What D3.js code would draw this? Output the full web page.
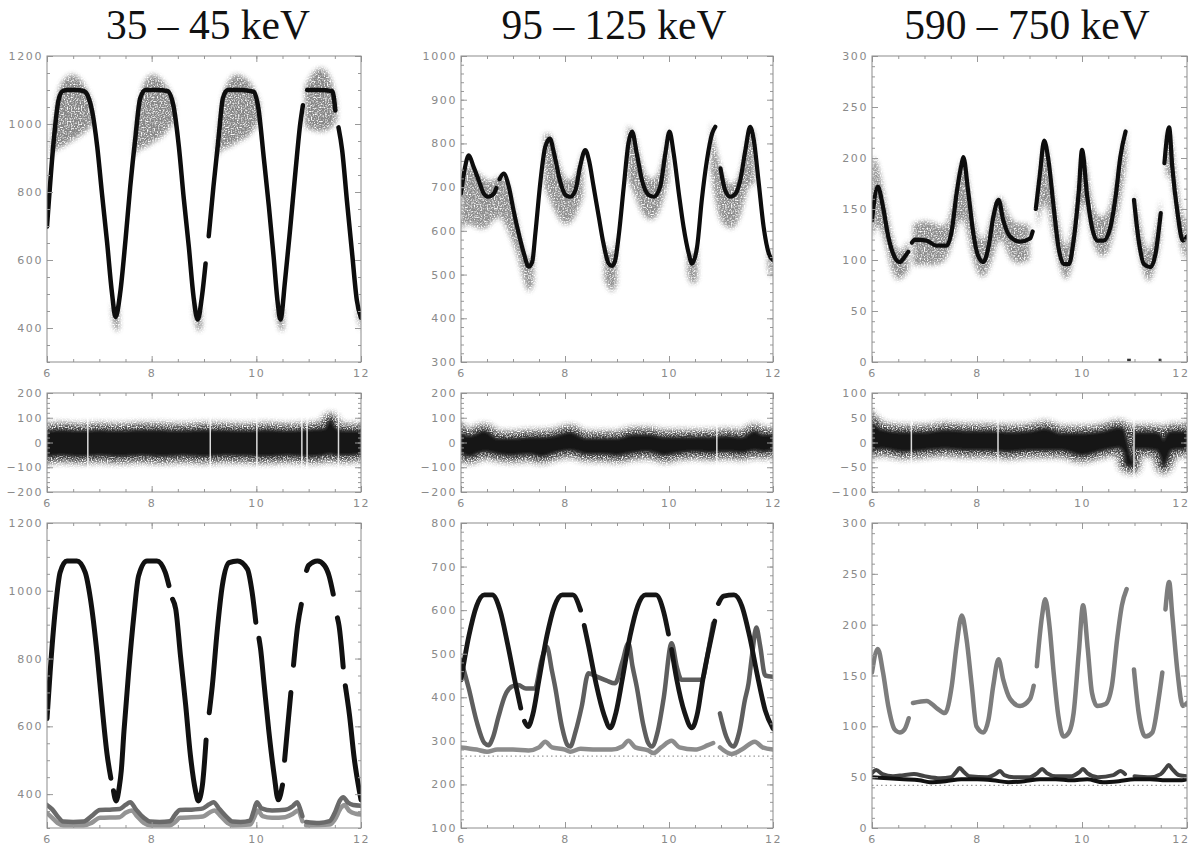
<!DOCTYPE html>
<html>
<head>
<meta charset="utf-8">
<script src="https://cdn.jsdelivr.net/npm/d3@7"></script>
<style>
  body { margin: 0; background: #fff; }
  svg { display: block; }
  .tick line { stroke: #999; }
  .tick text { fill: #8a8a8a; font-family: "DejaVu Sans", sans-serif; font-size: 11px; letter-spacing: 1.6px; }
</style>
</head>
<body>
<svg id="chart" width="1192" height="848"></svg>
<script>
// Titles of the three energy bands
var titles = ['35 \u2013 45 keV', '95 \u2013 125 keV', '590 \u2013 750 keV'];

// x axis (same in every panel)
var xDomain = [6, 12];
var xTicks = [6, 8, 10, 12];

// y tick labels for each panel
var a1Ticks = [400, 600, 800, 1000, 1200];
var b1Ticks = [300, 400, 500, 600, 700, 800, 900, 1000];
var c1Ticks = [0, 50, 100, 150, 200, 250, 300];
var resTicks = [-200, -100, 0, 100, 200];
var c2Ticks = [-100, -50, 0, 50, 100];
var a3Ticks = [400, 600, 800, 1000, 1200];
var b3Ticks = [100, 200, 300, 400, 500, 600, 700, 800];
var c3Ticks = [0, 50, 100, 150, 200, 250, 300];

// ---- top row: data (gray cloud) and model (black curve) ----
var a1Curve = [[6.00,698],[6.13,953],[6.22,1070],[6.30,1097],[6.40,1100],[6.55,1100],[6.70,1097],[6.80,1075],[6.86,1040],[6.96,933],[7.05,796],[7.15,649],[7.24,505],[7.31,432],[7.40,505],[7.50,659],[7.59,815],[7.69,962],[7.78,1075],[7.88,1100],[8.10,1100],[8.30,1097],[8.42,1050],[8.52,933],[8.61,786],[8.71,639],[8.80,492],[8.88,425],[8.96,492],[9.03,590],null,[9.09,670],[9.18,815],[9.28,962],[9.36,1075],[9.45,1100],[9.70,1100],[9.95,1095],[10.04,1045],[10.14,904],[10.24,757],[10.33,610],[10.41,472],[10.46,425],[10.55,541],[10.65,698],[10.75,864],[10.84,1002],[10.89,1055],null,[10.97,1100],[11.20,1100],[11.45,1097],[11.51,1040],null,[11.57,990],[11.64,923],[11.73,776],[11.83,620],[11.92,482],[12.00,430]];
var a1Cloud = [[6.08,900,940],[6.18,930,1090],[6.30,930,1130],[6.45,950,1150],[6.60,960,1140],[6.75,980,1110],[6.88,1000,1060],null,
  [7.24,440,480],[7.31,380,440],[7.38,400,470],null,
  [7.66,900,940],[7.76,930,1090],[7.90,930,1140],[8.05,950,1150],[8.20,960,1130],[8.35,990,1100],[8.45,1010,1060],null,
  [8.80,440,480],[8.88,380,430],[8.96,400,470],null,
  [9.24,900,940],[9.34,930,1090],[9.50,930,1140],[9.65,950,1150],[9.85,960,1130],[9.98,990,1100],[10.07,1010,1060],null,
  [10.38,440,480],[10.46,380,430],[10.53,400,470],null,
  [10.93,990,1110],[11.10,980,1160],[11.30,975,1170],[11.45,990,1130],[11.54,1010,1060],null,
  [11.93,430,470],[12.00,390,440]];

var b1Curve = [[6.00,685],[6.08,747],[6.15,773],[6.24,747],[6.34,716],[6.44,685],[6.53,678],[6.63,685],[6.68,698],null,[6.74,718],[6.82,731],[6.92,701],[7.01,647],[7.11,594],[7.21,548],[7.30,518],[7.37,529],[7.43,594],[7.53,716],[7.62,792],[7.71,811],[7.79,777],[7.90,716],[8.01,682],[8.10,678],[8.20,693],[8.29,747],[8.39,785],[8.46,762],[8.55,701],[8.65,632],[8.74,571],[8.84,525],[8.90,520],[8.96,530],[9.03,586],[9.13,701],[9.22,800],[9.29,827],[9.38,777],[9.48,716],[9.61,682],[9.71,678],[9.83,701],[9.93,777],[10.01,827],[10.09,777],[10.19,685],[10.28,609],[10.38,548],[10.44,525],[10.54,563],[10.63,670],[10.73,762],[10.83,823],[10.89,838],null,[10.99,743],[11.08,693],[11.18,678],[11.28,685],[11.37,716],[11.47,785],[11.56,838],[11.63,808],[11.72,716],[11.82,609],[11.92,548],[12.00,533]];
var b1Cloud = [[6.00,600,700],[6.10,620,760],[6.25,610,740],[6.45,600,720],[6.60,620,710],[6.75,640,730],[6.90,600,720],[7.05,560,640],[7.20,490,560],[7.30,450,520],[7.40,480,560],null,
  [7.60,700,820],[7.75,660,830],[7.90,620,740],[8.05,610,710],[8.20,630,720],[8.35,680,790],null,
  [8.75,490,580],[8.90,450,530],[9.00,480,590],null,
  [9.20,720,840],[9.35,680,830],[9.50,630,730],[9.70,620,710],[9.85,650,740],[10.00,720,840],null,
  [10.35,500,560],[10.45,470,530],[10.55,490,570],null,
  [10.80,740,850],[10.95,620,760],[11.10,610,710],[11.25,600,700],[11.40,640,740],[11.55,720,850],[11.65,700,820],null,
  [11.90,510,560],[12.00,490,540]];

var c1Curve = [[6.00,139],[6.11,172],[6.21,152],[6.31,123],[6.43,103],[6.53,98],[6.62,103],[6.69,108],null,[6.76,117],[6.82,120],[7.04,119],[7.23,114],[7.42,114],[7.52,129],[7.61,165],[7.71,195],[7.74,201],[7.83,168],[7.93,126],[8.03,103],[8.12,98],[8.22,113],[8.31,142],[8.41,159],[8.50,139],[8.63,123],[8.82,118],[9.01,121],[9.06,128],null,[9.12,150],[9.20,185],[9.28,217],[9.36,198],[9.46,152],[9.55,113],[9.65,96],[9.75,96],[9.84,119],[9.94,168],[10.00,208],[10.10,162],[10.19,132],[10.29,119],[10.41,119],[10.54,132],[10.64,162],[10.73,201],[10.83,226],null,[10.99,159],[11.08,119],[11.18,96],[11.31,93],[11.40,106],[11.50,146],null,[11.57,195],[11.66,230],[11.72,191],[11.82,146],[11.92,119],[12.00,123]];
var c1Cloud = [[6.00,120,200],[6.10,140,200],[6.25,120,160],[6.40,80,115],[6.55,80,105],[6.70,90,120],null,
  [6.78,95,135],[7.00,95,140],[7.25,95,135],[7.45,100,130],[7.60,130,175],[7.75,150,215],[7.90,100,150],[8.10,75,105],[8.30,100,150],[8.45,130,170],[8.60,100,140],[8.80,95,135],[9.00,100,135],null,
  [9.15,130,170],[9.30,170,235],[9.45,120,170],[9.65,75,105],[9.80,85,120],[9.95,140,190],[10.05,170,215],[10.20,110,145],[10.40,100,140],[10.55,110,150],[10.75,160,210],[10.85,200,230],null,
  [11.00,130,170],[11.20,75,105],[11.35,80,110],[11.50,120,160],null,
  [11.60,180,220],[11.70,190,235],[11.85,110,150],[12.00,100,135]];
var c1Low = [[10.86,10.93,2],[11.46,11.51,2]];

// ---- middle row: residuals (dense band lo/hi) and data gaps ----
var a2Band = [[6.0,-55,45],[6.3,-50,50],[6.6,-55,45],[7.0,-50,48],[7.4,-55,45],[7.8,-50,50],[8.2,-55,48],[8.6,-50,45],[9.0,-55,50],[9.4,-50,48],[9.8,-52,45],[10.2,-55,50],[10.6,-50,45],[11.0,-55,50],[11.3,-50,55],[11.42,-45,90],[11.5,-50,60],[11.7,-50,45],[12.0,-45,45]];
var a2Gaps = [6.78, 9.12, 10.01, 10.87, 10.97, 11.57];

var b2Band = [[6.0,-40,40],[6.15,-55,25],[6.45,-35,45],[6.7,-45,15],[7.0,-50,15],[7.3,-45,20],[7.55,-55,20],[7.8,-40,25],[8.1,-30,40],[8.4,-45,15],[8.7,-45,15],[9.0,-50,15],[9.3,-40,30],[9.6,-35,30],[9.9,-50,20],[10.2,-40,20],[10.5,-35,20],[10.8,-40,20],[11.1,-35,25],[11.4,-40,20],[11.65,-30,45],[11.8,-35,30],[12.0,-30,30]];
var b2Gaps = [10.92];

var c2Band = [[6.0,-15,40],[6.2,-12,25],[6.6,-18,20],[7.0,-15,20],[7.4,-12,25],[7.8,-15,22],[8.2,-15,22],[8.6,-18,20],[9.0,-15,22],[9.3,-15,28],[9.6,-15,18],[10.0,-25,18],[10.4,-15,22],[10.7,-10,30],[10.8,-20,25],[10.84,-45,10],[10.97,-48,-38],[11.0,-12,20],[11.4,-15,20],[11.5,-30,15],[11.55,-48,5],[11.6,-40,15],[11.7,-15,22],[12.0,-12,22]];
var c2Gaps = [6.75, 8.4, 10.99];

// ---- bottom row: model components ----
var a3Total = [[6.00,623],[6.06,760],[6.16,946],[6.25,1054],[6.38,1088],[6.57,1088],[6.73,1054],[6.83,976],[6.96,809],[7.05,662],[7.15,515],[7.22,447],null,[7.27,410],[7.32,380],[7.38,420],[7.42,470],[7.47,584],[7.56,760],[7.66,927],[7.75,1044],[7.91,1088],[8.10,1088],[8.26,1054],[8.33,1015],null,[8.40,975],[8.46,946],[8.55,809],[8.65,662],[8.74,515],[8.84,408],[8.89,380],[8.97,427],[9.04,560],null,[9.10,640],[9.16,721],[9.25,878],[9.35,1015],[9.48,1083],[9.64,1088],[9.83,1064],[9.92,995],[9.99,907],null,[10.05,860],[10.08,830],[10.15,721],[10.24,584],[10.34,457],[10.42,383],[10.50,427],null,[10.54,500],[10.59,584],[10.66,700],null,[10.71,780],[10.79,897],[10.86,960],null,[10.96,1060],[11.00,1075],[11.17,1088],[11.30,1075],[11.39,1044],[11.47,990],null,[11.55,920],[11.58,897],[11.66,775],null,[11.70,720],[11.78,633],[11.87,506],[11.97,408],[12.00,383]];
var a3Upper = [[6.00,368],[6.10,355],[6.20,335],[6.31,319],[6.50,318],[6.70,319],[6.85,335],[7.01,353],[7.20,354],[7.39,356],[7.50,368],[7.59,376],[7.70,355],[7.85,330],[7.97,319],[8.15,318],[8.35,320],[8.45,340],[8.54,353],[8.75,354],[8.98,358],[9.10,370],[9.18,376],[9.30,355],[9.45,330],[9.54,319],[9.70,318],[9.88,322],[9.95,350],[10.01,376],[10.10,358],[10.30,352],[10.55,354],[10.70,365],[10.78,376],[10.85,350],[10.88,335],null,[10.95,318],[11.20,315],[11.40,320],[11.50,345],[11.60,382],[11.66,391],[11.75,375],[11.85,368],[12.00,366]];
var a3Lower = [[6.00,344],[6.10,330],[6.20,315],[6.31,308],[6.70,308],[6.85,315],[7.01,330],[7.39,332],[7.50,345],[7.62,352],[7.72,335],[7.85,315],[7.97,308],[8.35,308],[8.45,318],[8.54,330],[8.98,334],[9.10,345],[9.20,352],[9.32,335],[9.45,315],[9.54,308],[9.88,310],[9.95,328],[10.03,352],[10.12,335],[10.30,330],[10.55,332],[10.70,342],[10.80,352],[10.86,330],[10.88,320],null,[10.95,308],[11.40,310],[11.50,325],[11.62,360],[11.68,368],[11.78,350],[11.90,342],[12.00,340]];

var b3Total = [[6.00,440],[6.15,540],[6.30,610],[6.45,635],[6.60,635],[6.75,600],[6.90,520],[7.05,430],[7.15,375],null,[7.22,345],[7.29,333],[7.38,360],[7.50,440],[7.65,540],[7.80,610],[7.95,635],[8.15,635],[8.30,600],null,[8.37,565],[8.45,520],[8.60,430],[8.75,360],[8.87,330],[8.98,365],[9.10,440],[9.25,540],[9.40,610],[9.55,635],[9.75,635],[9.90,595],[9.99,545],null,[10.05,510],[10.15,440],[10.30,365],[10.44,330],[10.55,365],[10.65,440],[10.80,530],[10.88,575],null,[10.95,615],[11.05,632],[11.25,635],[11.40,610],[11.55,540],[11.70,450],[11.85,370],[12.00,328]];
var b3Mid = [[6.00,486],[6.15,420],[6.30,345],[6.45,295],[6.53,290],[6.62,310],[6.72,355],[6.85,405],[6.97,424],[7.10,428],[7.25,420],[7.42,420],[7.55,486],[7.65,516],[7.75,460],[7.81,424],[7.94,333],[8.05,290],[8.10,287],[8.20,320],[8.32,378],[8.45,455],[8.60,448],[8.80,438],[8.96,432],[9.10,480],[9.22,524],[9.30,470],[9.38,424],[9.50,340],[9.60,295],[9.67,287],[9.78,320],[9.90,400],[10.05,524],[10.15,470],[10.24,440],[10.45,440],[10.63,440],[10.76,510],[10.85,570],null,[10.98,363],[11.10,310],[11.24,287],[11.35,320],[11.46,394],[11.53,432],[11.60,500],[11.68,560],[11.75,520],[11.85,450],[12.00,447]];
var b3Base = [[6.00,285],[6.30,280],[6.50,275],[6.70,280],[7.00,280],[7.30,278],[7.50,285],[7.62,298],[7.75,285],[8.00,280],[8.10,275],[8.30,282],[8.60,280],[8.90,280],[9.10,287],[9.22,300],[9.35,285],[9.60,278],[9.70,272],[9.85,285],[10.05,300],[10.20,285],[10.50,280],[10.75,290],[10.85,295],null,[10.98,285],[11.20,270],[11.40,280],[11.65,298],[11.80,285],[12.00,280]];
var b3Level = 265;

var c3Total = [[6.00,153],[6.11,176],[6.21,153],[6.31,120],[6.43,97],[6.53,94],[6.62,97],[6.70,108],null,[6.78,123],[7.04,125],[7.23,118],[7.39,113],[7.52,140],[7.61,179],[7.71,209],[7.80,186],[7.90,140],[7.99,100],[8.12,94],[8.22,107],[8.31,140],[8.41,166],[8.50,146],[8.63,127],[8.82,120],[9.01,127],[9.08,140],null,[9.14,159],[9.24,209],[9.30,225],[9.38,199],[9.46,153],[9.55,110],[9.65,90],[9.75,94],[9.84,113],[9.94,173],[10.02,219],[10.11,176],[10.19,133],[10.29,120],[10.45,122],[10.57,140],[10.67,186],[10.76,219],[10.85,235],null,[10.99,156],[11.08,113],[11.21,90],[11.34,94],[11.46,127],[11.53,153],null,[11.59,215],[11.66,242],[11.72,209],[11.82,153],[11.92,120],[12.00,123]];
var c3Bump = [[6.00,54],[6.08,57],[6.20,53],[6.40,51],[6.60,52],[6.80,53],[7.00,51],[7.30,49],[7.50,50],[7.60,55],[7.67,59],[7.75,55],[7.85,51],[8.20,50],[8.35,53],[8.44,56],[8.52,52],[8.70,50],[9.00,50],[9.15,54],[9.24,58],[9.33,54],[9.50,51],[9.80,51],[9.95,55],[10.02,58],[10.10,54],[10.30,50],[10.60,52],[10.73,56],[10.82,53],null,[11.00,51],[11.30,50],[11.50,53],[11.60,59],[11.65,62],[11.72,58],[11.85,52],[12.00,51]];
var c3Flat = [[6.0,50],[6.3,49],[6.6,48],[6.9,47],[7.1,45],[7.4,46],[7.7,48],[8.0,48],[8.3,47],[8.6,45],[8.9,46],[9.2,48],[9.5,48],[9.8,47],[10.1,48],[10.4,45],[10.7,46],[11.0,48],[11.3,48],[11.6,47],[11.9,47],[12.0,48]];
var c3Level = 42;

// ---- layout ----
var cols = [{ x0: 47, x1: 361 }, { x0: 461, x1: 773 }, { x0: 872, x1: 1187 }];
var rows = [{ y0: 56, y1: 362 }, { y0: 393, y1: 492 }, { y0: 523, y1: 828 }];
var titleX = [208, 614, 1027];

var svg = d3.select('#chart');
var defs = svg.append('defs');

// speckled, blurred look for the scattered data points
function speckleFilter(id, blur, freq, gain, bias) {
    var f = defs.append('filter').attr('id', id)
        .attr('x', '-20%').attr('y', '-60%').attr('width', '140%').attr('height', '220%');
    f.append('feGaussianBlur').attr('in', 'SourceGraphic').attr('stdDeviation', blur).attr('result', 'b');
    f.append('feTurbulence').attr('type', 'fractalNoise').attr('baseFrequency', freq)
        .attr('numOctaves', 1).attr('seed', 4).attr('result', 'n');
    f.append('feColorMatrix').attr('in', 'n').attr('type', 'matrix')
        .attr('values', '0 0 0 0 0  0 0 0 0 0  0 0 0 0 0  ' + gain + ' 0 0 0 ' + bias).attr('result', 'm');
    f.append('feComposite').attr('in', 'b').attr('in2', 'm').attr('operator', 'in');
}
speckleFilter('fuzz', 2.5, 0.7, 3.5, -0.9);
speckleFilter('halo', 3, 0.8, 3.5, -1.0);
defs.append('filter').attr('id', 'soft').attr('x', '-20%').attr('y', '-50%').attr('width', '140%').attr('height', '200%')
    .append('feGaussianBlur').attr('stdDeviation', 0.8);

// Function to build one framed panel with ticks on all four sides
function makePanel(col, row, yDomain, yTicks, yMinorStep) {
    var c = cols[col], r = rows[row];
    var x = d3.scaleLinear().domain(xDomain).range([c.x0, c.x1]);
    var y = d3.scaleLinear().domain(yDomain).range([r.y1, r.y0]);
    var g = svg.append('g');
    var yMinor = d3.range(yDomain[0], yDomain[1] + 1e-9, yMinorStep);
    var xMinor = d3.range(6, 12.001, 0.5);

    var clipId = 'clip' + col + row;
    defs.append('clipPath').attr('id', clipId)
        .append('rect').attr('x', c.x0).attr('y', r.y0)
        .attr('width', c.x1 - c.x0).attr('height', r.y1 - r.y0);
    var plot = g.append('g').attr('clip-path', 'url(#' + clipId + ')');

    var axes = g.append('g');
    // minor ticks
    axes.append('g').attr('transform', 'translate(' + c.x0 + ',0)')
        .call(d3.axisLeft(y).tickValues(yMinor).tickSize(-3).tickFormat(''));
    axes.append('g').attr('transform', 'translate(' + c.x1 + ',0)')
        .call(d3.axisRight(y).tickValues(yMinor).tickSize(-3).tickFormat(''));
    axes.append('g').attr('transform', 'translate(0,' + r.y0 + ')')
        .call(d3.axisTop(x).tickValues(xMinor).tickSize(-3).tickFormat(''));
    axes.append('g').attr('transform', 'translate(0,' + r.y1 + ')')
        .call(d3.axisBottom(x).tickValues(xMinor).tickSize(-3).tickFormat(''));
    // major ticks + labels
    axes.append('g').attr('transform', 'translate(' + c.x0 + ',0)')
        .call(d3.axisLeft(y).tickValues(yTicks).tickSize(-6).tickPadding(4).tickFormat(d3.format('d')));
    axes.append('g').attr('transform', 'translate(' + c.x1 + ',0)')
        .call(d3.axisRight(y).tickValues(yTicks).tickSize(-6).tickFormat(''));
    axes.append('g').attr('transform', 'translate(0,' + r.y0 + ')')
        .call(d3.axisTop(x).tickValues(xTicks).tickSize(-6).tickFormat(''));
    var bottom = axes.append('g').attr('transform', 'translate(0,' + r.y1 + ')')
        .call(d3.axisBottom(x).tickValues(xTicks).tickSize(-6).tickPadding(7).tickFormat(d3.format('d')));
    axes.selectAll('.domain').remove();
    axes.selectAll('text').attr('font-family', null).attr('font-size', null);
    // the last column runs to the page edge: keep its "12" inside
    if (col === 2) {
        bottom.selectAll('.tick text').filter(d => d === 12).attr('text-anchor', 'end').attr('dx', 2);
    }

    g.append('rect')
        .attr('x', c.x0).attr('y', r.y0)
        .attr('width', c.x1 - c.x0).attr('height', r.y1 - r.y0)
        .attr('fill', 'none').attr('stroke', '#8c8c8c').attr('stroke-width', 1);

    return { plot: plot, x: x, y: y, r: r };
}

function drawCloud(p, data, fill, opacity) {
    var area = d3.area().defined(d => d)
        .x(d => p.x(d[0])).y0(d => p.y(d[1])).y1(d => p.y(d[2]))
        .curve(d3.curveBasis);
    p.plot.append('path').attr('d', area(data))
        .attr('fill', fill).attr('opacity', opacity).attr('filter', 'url(#fuzz)');
}

function drawLine(p, data, color, width) {
    var line = d3.line().defined(d => d)
        .x(d => p.x(d[0])).y(d => p.y(d[1]))
        .curve(d3.curveMonotoneX);
    p.plot.append('path').attr('d', line(data))
        .attr('fill', 'none').attr('stroke', color).attr('stroke-width', width)
        .attr('stroke-linecap', 'round').attr('stroke-linejoin', 'round');
}

function drawResidual(p, band, gaps) {
    var area = d3.area()
        .x(d => p.x(d[0])).y0(d => p.y(d[1])).y1(d => p.y(d[2]))
        .curve(d3.curveMonotoneX);
    p.plot.append('path').attr('d', area(band))
        .attr('fill', '#222').attr('stroke', '#222').attr('stroke-width', 14)
        .attr('opacity', 0.9).attr('filter', 'url(#halo)');
    p.plot.append('path').attr('d', area(band))
        .attr('fill', '#121212').attr('stroke', '#333').attr('stroke-width', 2)
        .attr('filter', 'url(#soft)');
    p.plot.selectAll(null).data(gaps).join('line')
        .attr('x1', d => p.x(d)).attr('x2', d => p.x(d))
        .attr('y1', p.r.y0).attr('y2', p.r.y1)
        .attr('stroke', '#fff').attr('stroke-width', 1.5).attr('opacity', 0.85);
}

function drawLevel(p, v) {
    p.plot.append('line')
        .attr('x1', p.x(6)).attr('x2', p.x(12))
        .attr('y1', p.y(v)).attr('y2', p.y(v))
        .attr('stroke', '#999').attr('stroke-width', 1.2).attr('stroke-dasharray', '1.5,3');
}

// Titles
svg.selectAll('text.title').data(titles).join('text')
    .attr('class', 'title')
    .attr('x', (d, i) => titleX[i]).attr('y', 39)
    .attr('text-anchor', 'middle')
    .attr('font-family', '"Liberation Serif", "DejaVu Serif", serif')
    .attr('font-size', 41.5).attr('fill', '#111')
    .text(d => d);

// Top row
var pA1 = makePanel(0, 0, [300, 1200], a1Ticks, 50);
drawCloud(pA1, a1Cloud, '#7a7a7a', 0.9);
drawLine(pA1, a1Curve, '#0d0d0d', 4.5);

var pB1 = makePanel(1, 0, [300, 1000], b1Ticks, 20);
drawCloud(pB1, b1Cloud, '#7a7a7a', 0.85);
drawLine(pB1, b1Curve, '#0d0d0d', 4.2);

var pC1 = makePanel(2, 0, [0, 300], c1Ticks, 10);
drawCloud(pC1, c1Cloud, '#7a7a7a', 0.85);
drawLine(pC1, c1Curve, '#0d0d0d', 4.2);
pC1.plot.selectAll(null).data(c1Low).join('line')
    .attr('x1', d => pC1.x(d[0])).attr('x2', d => pC1.x(d[1]))
    .attr('y1', d => pC1.y(d[2])).attr('y2', d => pC1.y(d[2]))
    .attr('stroke', '#333').attr('stroke-width', 2.5);

// Middle row (residuals)
var pA2 = makePanel(0, 1, [-200, 200], resTicks, 20);
drawResidual(pA2, a2Band, a2Gaps);
var pB2 = makePanel(1, 1, [-200, 200], resTicks, 20);
drawResidual(pB2, b2Band, b2Gaps);
var pC2 = makePanel(2, 1, [-100, 100], c2Ticks, 10);
drawResidual(pC2, c2Band, c2Gaps);

// Bottom row (model components)
var pA3 = makePanel(0, 2, [300, 1200], a3Ticks, 50);
drawLine(pA3, a3Lower, '#949494', 4.5);
drawLine(pA3, a3Upper, '#6a6a6a', 4.5);
drawLine(pA3, a3Total, '#111', 5);

var pB3 = makePanel(1, 2, [100, 800], b3Ticks, 20);
drawLevel(pB3, b3Level);
drawLine(pB3, b3Base, '#8c8c8c', 4.5);
drawLine(pB3, b3Mid, '#5e5e5e', 4.5);
drawLine(pB3, b3Total, '#161616', 4.8);

var pC3 = makePanel(2, 2, [0, 300], c3Ticks, 10);
drawLevel(pC3, c3Level);
drawLine(pC3, c3Total, '#7d7d7d', 4.5);
drawLine(pC3, c3Bump, '#444', 4);
drawLine(pC3, c3Flat, '#111', 4);
</script>
</body>
</html>
